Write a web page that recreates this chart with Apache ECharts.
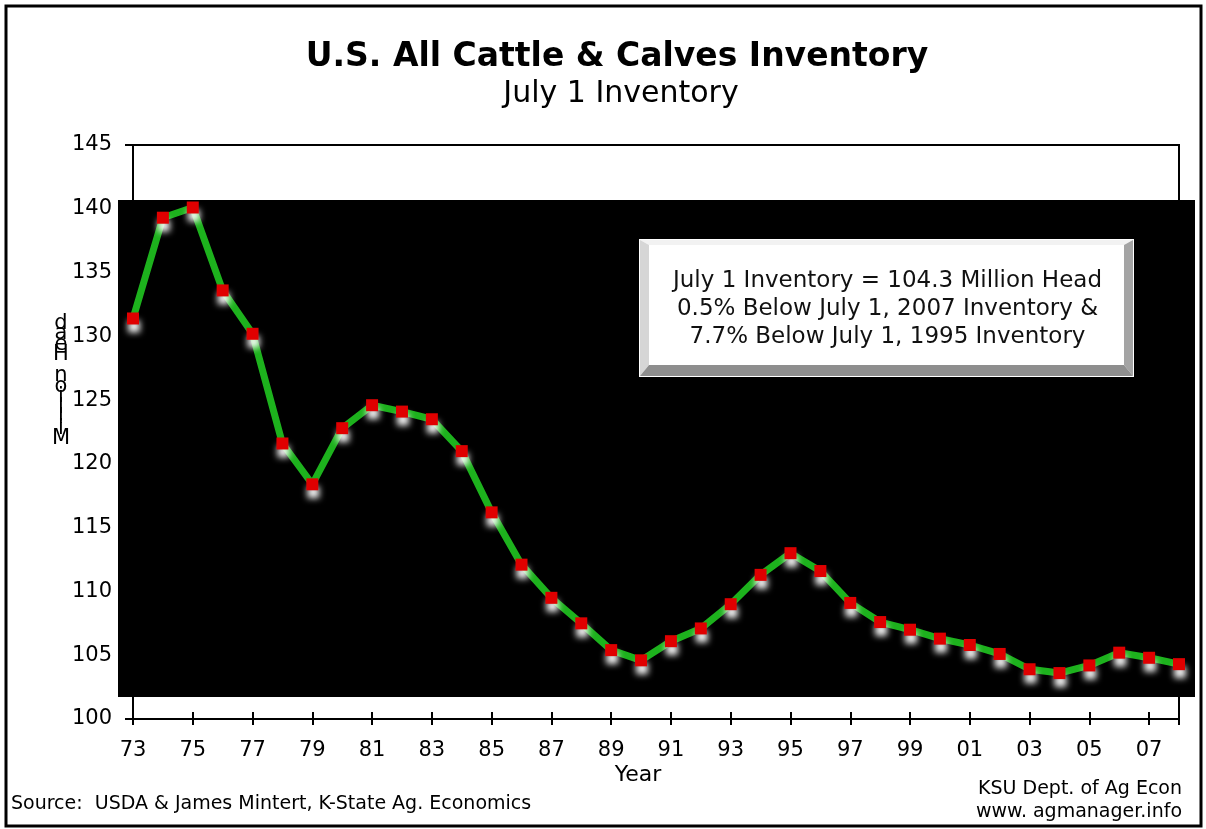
<!DOCTYPE html>
<html>
<head>
<meta charset="utf-8">
<title>U.S. All Cattle & Calves Inventory</title>
<script src="https://cdn.jsdelivr.net/npm/echarts@6/dist/echarts.min.js"></script>
<style>
    html, body { margin: 0; padding: 0; background: #fff; }
    #chart { width: 1206px; height: 829px; }
</style>
</head>
<body>
<div id="chart"></div>
<script>
// July 1 inventory, million head
var years = [1973, 1974, 1975, 1976, 1977, 1978, 1979, 1980, 1981, 1982, 1983, 1984,
    1985, 1986, 1987, 1988, 1989, 1990, 1991, 1992, 1993, 1994, 1995, 1996,
    1997, 1998, 1999, 2000, 2001, 2002, 2003, 2004, 2005, 2006, 2007, 2008];
var inventory = [131.4, 139.3, 140.1, 133.6, 130.2, 121.6, 118.4, 122.8, 124.6, 124.1, 123.5, 121.0,
    116.2, 112.1, 109.5, 107.5, 105.4, 104.6, 106.1, 107.1, 109.0, 111.3, 113.0, 111.6,
    109.1, 107.6, 107.0, 106.3, 105.8, 105.1, 103.9, 103.6, 104.2, 105.2, 104.8, 104.3];
var yTicks = { min: 100, max: 145, step: 5 };
var xTicks = { min: 1973, max: 2008, step: 2 };
var noteLines = [
    'July 1 Inventory = 104.3 Million Head',
    '0.5% Below July 1, 2007 Inventory &',
    '7.7% Below July 1, 1995 Inventory'
];
var yName = 'Million Head';

var FONT = 'DejaVu Sans';

var chart = echarts.init(document.getElementById('chart'));

var points = years.map(function(y, i) { return [y, inventory[i]]; });

function yearLabel(v) {
    if (v >= xTicks.max) return '';
    var s = String(v % 100);
    return s.length < 2 ? '0' + s : s;
}

// the y axis title is drawn as upright letters stacked bottom to top
var stacked = yName.split('').reverse().join('\n');

// bevelled note box
var bx = 640, by = 240, bw = 493, bh = 136, bev = 9;
var noteBox = [
    { type: 'rect', shape: { x: bx - 1, y: by - 1, width: bw + 2, height: bh + 2 }, style: { fill: '#ffffff' }, z: 5 },
    { type: 'polygon', shape: { points: [[bx, by], [bx + bw, by], [bx + bw - bev, by + 5], [bx + bev, by + 5]] }, style: { fill: '#f2f2f2' }, z: 6 },
    { type: 'polygon', shape: { points: [[bx, by], [bx + bev, by + 5], [bx + bev, by + bh - 11], [bx, by + bh]] }, style: { fill: '#d6d6d6' }, z: 6 },
    { type: 'polygon', shape: { points: [[bx + bw, by], [bx + bw, by + bh], [bx + bw - bev, by + bh - 11], [bx + bw - bev, by + 5]] }, style: { fill: '#a4a4a4' }, z: 6 },
    { type: 'polygon', shape: { points: [[bx, by + bh], [bx + bw, by + bh], [bx + bw - bev, by + bh - 11], [bx + bev, by + bh - 11]] }, style: { fill: '#8e8e8e' }, z: 6 },
    { type: 'rect', shape: { x: bx + bev, y: by + 5, width: bw - 2 * bev, height: bh - 16 }, style: { fill: '#ffffff' }, z: 7 },
    {
        type: 'text', x: bx + bw / 2 + 1, y: by + 69, z: 8,
        style: {
            text: noteLines.join('\n'), fill: '#111', font: '23px "' + FONT + '"',
            align: 'center', verticalAlign: 'middle', lineHeight: 28
        }
    }
];

var option = {
    backgroundColor: '#ffffff',
    animation: false,
    title: [
        {
            text: 'U.S. All Cattle & Calves Inventory',
            left: 612, top: 36, textAlign: 'center',
            textStyle: { fontFamily: FONT, fontSize: 33, fontWeight: 'bold', color: '#000' }
        },
        {
            text: 'July 1 Inventory',
            left: 616, top: 74, textAlign: 'center',
            textStyle: { fontFamily: FONT, fontSize: 30, fontWeight: 'normal', color: '#000' }
        }
    ],
    grid: {
        left: 133, right: 27, top: 145, bottom: 110,
        show: true, borderColor: '#000', borderWidth: 2, backgroundColor: 'transparent'
    },
    xAxis: [
        {
            type: 'value', min: xTicks.min, max: xTicks.max, interval: xTicks.step,
            axisLine: { lineStyle: { color: '#000', width: 2 } },
            axisTick: { inside: false, length: 6, lineStyle: { color: '#000', width: 2 } },
            axisLabel: { formatter: yearLabel, fontFamily: FONT, fontSize: 21, color: '#000', margin: 21 },
            splitLine: { show: false }
        },
        {
            type: 'value', min: xTicks.min, max: xTicks.max, interval: xTicks.step, position: 'bottom',
            axisLine: { show: false },
            axisTick: { inside: true, length: 7, lineStyle: { color: '#000', width: 2 } },
            axisLabel: { show: false },
            splitLine: { show: false }
        }
    ],
    yAxis: {
        type: 'value', min: yTicks.min, max: yTicks.max, interval: yTicks.step,
        axisLine: { show: true, lineStyle: { color: '#000', width: 2 } },
        axisTick: { show: true, length: 8, lineStyle: { color: '#000', width: 2 } },
        axisLabel: { fontFamily: FONT, fontSize: 21, color: '#000', margin: 21 },
        splitLine: { show: false }
    },
    graphic: [
        // outer frame
        { type: 'rect', shape: { x: 6, y: 6, width: 1195, height: 820 }, style: { fill: 'none', stroke: '#000', lineWidth: 3 }, z: 10 },
        // black backdrop behind the line
        { type: 'rect', shape: { x: 118, y: 200, width: 1077, height: 497 }, style: { fill: '#000' }, z: -1 },
        {
            type: 'text', x: 61, y: 381, z: 10,
            style: { text: stacked, fill: '#000', font: '21px "' + FONT + '"', align: 'center', verticalAlign: 'middle', lineHeight: 10.5 }
        },
        {
            type: 'text', x: 638, y: 775, z: 10,
            style: { text: 'Year', fill: '#000', font: '22px "' + FONT + '"', align: 'center', verticalAlign: 'middle' }
        },
        {
            type: 'text', x: 11, y: 804, z: 10,
            style: { text: 'Source:  USDA & James Mintert, K-State Ag. Economics', fill: '#000', font: '19px "' + FONT + '"', align: 'left', verticalAlign: 'middle' }
        },
        {
            type: 'text', x: 1182, y: 801, z: 10,
            style: { text: 'KSU Dept. of Ag Econ\nwww. agmanager.info', fill: '#000', font: '19px "' + FONT + '"', align: 'right', verticalAlign: 'middle', lineHeight: 23 }
        }
    ].concat(noteBox),
    series: [
        {
            type: 'line',
            data: points,
            xAxisIndex: 0,
            symbol: 'rect',
            symbolSize: 12,
            lineStyle: { color: '#1db21d', width: 7 },
            itemStyle: {
                color: '#e00000',
                shadowColor: 'rgba(255,255,255,0.95)',
                shadowBlur: 6,
                shadowOffsetX: 1,
                shadowOffsetY: 8
            },
            z: 3
        }
    ]
};

chart.setOption(option);
</script>
</body>
</html>
